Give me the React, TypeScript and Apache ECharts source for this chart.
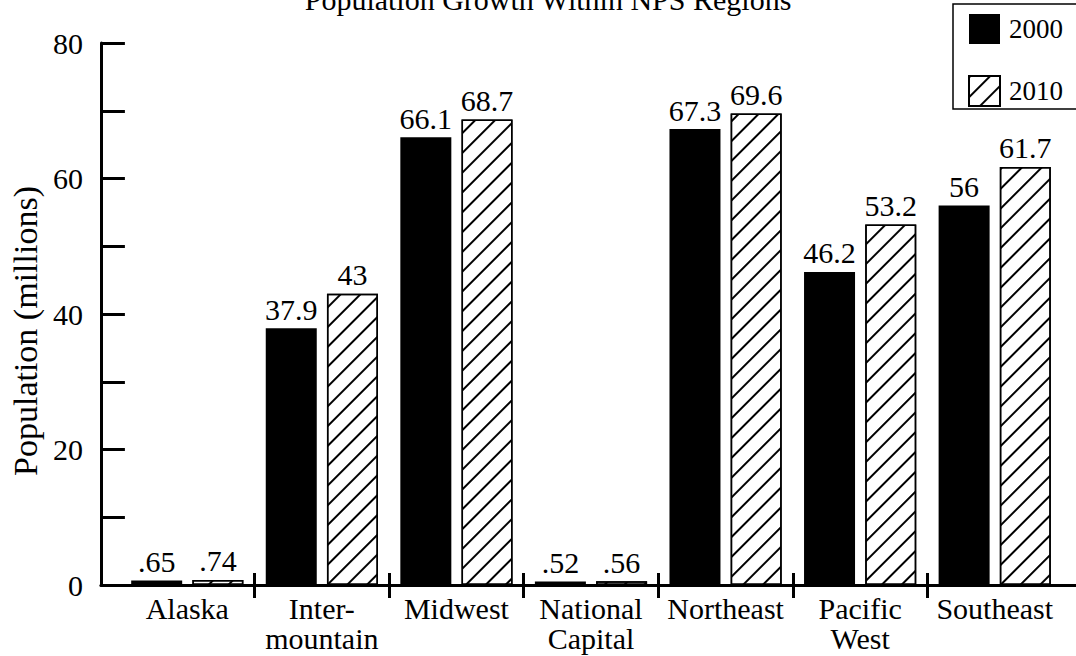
import React, { useEffect, useRef } from "react";
import * as echarts from "echarts";

const title = "Population Growth Within NPS Regions";
const categories = ["Alaska", "Inter-\nmountain", "Midwest", "National\nCapital", "Northeast", "Pacific\nWest", "Southeast"];
const seriesNames = ["2000", "2010"];
const values2000 = [0.65, 37.9, 66.1, 0.52, 67.3, 46.2, 56];
const values2010 = [0.74, 43, 68.7, 0.56, 69.6, 53.2, 61.7];
const yMin = 0;
const yMax = 80;
const yInterval = 10;
const yLabelStep = 20;
const yName = "Population (millions)";

const FONT = "Liberation Serif";

export default function App() {
  const ref = useRef<HTMLDivElement>(null);
  useEffect(() => {
    if (!ref.current) return;
    const chart = echarts.init(ref.current, null, { renderer: "svg" });
    const W = 1076;
    const g1Left = 120;
    const g1Right = 14;
    const band = (W - g1Left - g1Right) / categories.length;
    const top = 43;
    const bottom = 71;
    const fmt = (p: any) => String(p.value).replace(/^0\./, ".");
    const boundaries = categories.slice(1);
    const hiddenY = { type: "value", min: yMin, max: yMax, show: false };
    chart.setOption({
      animation: false,
      backgroundColor: "#fff",
      textStyle: { fontFamily: FONT, color: "#000" },
      graphic: [
        {
          type: "text",
          x: 548,
          y: -1,
          style: { text: title, fontFamily: FONT, fontSize: 30, fill: "#000", align: "center", verticalAlign: "middle" },
        },
      ],
      legend: {
        data: seriesNames,
        orient: "vertical",
        left: 953,
        top: 4,
        padding: [10, 14, 2, 15],
        itemGap: 31,
        itemWidth: 31,
        itemHeight: 30,
        borderColor: "#000",
        borderWidth: 1.5,
        icon: "rect",
        textStyle: { fontFamily: FONT, fontSize: 27, color: "#000", padding: [0, 0, 0, 4] },
      },
      grid: [
        { left: 98, right: 0, top, bottom },
        { left: g1Left, right: g1Right, top, bottom },
        { left: g1Left + band, right: g1Right + band, top, bottom },
      ],
      xAxis: [
        {
          type: "value", gridIndex: 0, min: 0, max: 1,
          axisLine: { show: true, onZero: false, lineStyle: { color: "#000", width: 3 } },
          axisTick: { show: false }, axisLabel: { show: false }, splitLine: { show: false },
        },
        {
          type: "category", gridIndex: 1, data: categories,
          axisLine: { show: false }, axisTick: { show: false },
          axisLabel: { fontFamily: FONT, fontSize: 30, color: "#000", lineHeight: 30, margin: 8, interval: 0 },
        },
        {
          type: "category", gridIndex: 2, data: boundaries, boundaryGap: false,
          axisLine: { show: false },
          axisTick: { show: true, length: 13, lineStyle: { color: "#000", width: 3 } },
          axisLabel: { show: false },
        },
        {
          type: "category", gridIndex: 2, data: boundaries, boundaryGap: false, position: "bottom",
          axisLine: { show: false },
          axisTick: { show: true, inside: true, length: 12, lineStyle: { color: "#000", width: 3 } },
          axisLabel: { show: false },
        },
      ],
      yAxis: [
        {
          type: "value", gridIndex: 0, min: yMin, max: yMax, interval: yInterval,
          name: yName, nameLocation: "middle", nameGap: 56,
          nameTextStyle: { fontFamily: FONT, fontSize: 34, color: "#000", padding: [0, 34, 0, 0] },
          axisLine: { show: true, lineStyle: { color: "#000", width: 3 } },
          axisTick: { show: true, inside: true, length: 24, lineStyle: { color: "#000", width: 3 } },
          axisLabel: {
            fontFamily: FONT, fontSize: 30, color: "#000", margin: 18, padding: [14, 0, 0, 0],
            formatter: (v: number) => (v % yLabelStep === 0 ? String(v) : ""),
          },
          splitLine: { show: false },
        },
        { ...hiddenY, gridIndex: 1 },
        { ...hiddenY, gridIndex: 2 },
      ],
      series: [
        {
          name: seriesNames[0], type: "bar", xAxisIndex: 1, yAxisIndex: 1,
          data: values2000, barWidth: 51, barGap: "20%",
          itemStyle: { color: "#000" },
          label: { show: true, position: "top", distance: 4, fontFamily: FONT, fontSize: 30, color: "#000", formatter: fmt },
        },
        {
          name: seriesNames[1], type: "bar", xAxisIndex: 1, yAxisIndex: 1,
          data: values2010, barWidth: 51, barGap: "20%",
          itemStyle: {
            color: "#fff", borderColor: "#000", borderWidth: 1.5,
            decal: {
              symbol: "rect", symbolSize: 1, color: "#000", backgroundColor: "#fff",
              dashArrayX: [1, 0], dashArrayY: [1.2, 12], rotation: -Math.PI / 4,
            },
          },
          label: { show: true, position: "top", distance: 4, fontFamily: FONT, fontSize: 30, color: "#000", formatter: fmt },
        },
      ],
    });
    return () => chart.dispose();
  }, []);
  return <div ref={ref} style={{ width: 1076, height: 656, position: "absolute", left: 0, top: 0 }} />;
}
